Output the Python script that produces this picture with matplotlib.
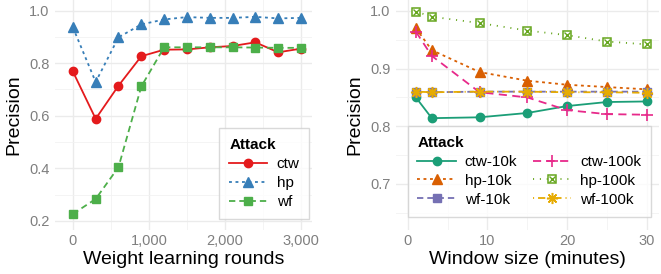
import matplotlib.pyplot as plt
from matplotlib.legend_handler import HandlerTuple
from matplotlib.ticker import FuncFormatter, MultipleLocator

plt.rcParams['font.family'] = ['Liberation Sans', 'DejaVu Sans']

# Left panel: precision vs. weight learning rounds
rounds = [0, 300, 600, 900, 1200, 1500, 1800, 2100, 2400, 2700, 3000]
ctw = [0.768, 0.588, 0.714, 0.826, 0.851, 0.852, 0.860, 0.865, 0.879, 0.841, 0.855]
hp = [0.936, 0.728, 0.898, 0.947, 0.966, 0.975, 0.972, 0.972, 0.976, 0.970, 0.972]
wf = [0.226, 0.283, 0.404, 0.711, 0.860, 0.860, 0.860, 0.860, 0.859, 0.858, 0.858]

# Right panel: precision vs. window size
window = [1, 3, 9, 15, 20, 25, 30]
ctw_10k = [0.850, 0.814, 0.8155, 0.823, 0.835, 0.842, 0.843]
hp_10k = [0.970, 0.932, 0.894, 0.879, 0.872, 0.868, 0.864]
wf_10k = [0.860, 0.859, 0.860, 0.860, 0.860, 0.860, 0.860]
ctw_100k = [0.964, 0.922, 0.859, 0.850, 0.828, 0.821, 0.820]
hp_100k = [0.999, 0.990, 0.979, 0.966, 0.958, 0.947, 0.942]
wf_100k = [0.860, 0.859, 0.860, 0.860, 0.859, 0.859, 0.858]

W, H = 661, 274
fig = plt.figure(figsize=(W / 100, H / 100), dpi=100)

def px_axes(x0, x1, y0, y1):
    return fig.add_axes([x0 / W, 1 - y1 / H, (x1 - x0) / W, (y1 - y0) / H])

def style(ax):
    for s in ax.spines.values():
        s.set_visible(False)
    ax.grid(which='major', color='#EBEBEB', lw=1.0)
    ax.grid(which='minor', color='#F2F2F2', lw=0.6)
    ax.set_axisbelow(True)
    ax.tick_params(which='both', length=0, labelsize=10.5, labelcolor='#7F7F7F')
    ax.tick_params(axis='x', pad=3)
    ax.tick_params(axis='y', pad=4)

def legend(ax, handles, labels, anchor, ncol=1, **kw):
    leg = ax.legend(handles, labels, loc='lower right', bbox_to_anchor=anchor,
                    borderaxespad=0, ncol=ncol, title='Attack', alignment='left',
                    fontsize=11, title_fontproperties={'weight': 'bold', 'size': 11},
                    frameon=True, fancybox=False, edgecolor='#D0D0D0',
                    handlelength=2.5, labelspacing=0.32, handletextpad=0.6,
                    borderpad=0.65, handler_map={tuple: HandlerTuple(ndivide=1)}, **kw)
    leg.get_frame().set_linewidth(1.0)
    return leg

lw = 1.3
short = (0, (1.6, 2.0))
dash = (0, (3.5, 2.2))

# ---- left panel
ax1 = px_axes(55, 312, 0, 230)
style(ax1)
l1, = ax1.plot(rounds, ctw, color='#E41A1C', lw=lw, marker='o', ms=6)
l2, = ax1.plot(rounds, hp, color='#377EB8', lw=lw, ls=short, marker='^', ms=6.5)
l3, = ax1.plot(rounds, wf, color='#4DAF4A', lw=lw, ls=dash, marker='s', ms=5.5)
ax1.set_xlim(-235, 3145)
ax1.set_ylim(0.165, 1.04)
ax1.xaxis.set_major_locator(MultipleLocator(1000))
ax1.xaxis.set_minor_locator(MultipleLocator(500))
ax1.yaxis.set_major_locator(MultipleLocator(0.2))
ax1.yaxis.set_minor_locator(MultipleLocator(0.1))
ax1.xaxis.set_major_formatter(FuncFormatter(lambda v, p: f"{int(v):,}"))
ax1.yaxis.set_major_formatter(FuncFormatter(lambda v, p: f"{v:.1f}"))
ax1.set_xlabel('Weight learning rounds', fontsize=14, labelpad=2)
ax1.set_ylabel('Precision', fontsize=14, labelpad=5)
legend(ax1, [l1, l2, l3], ['ctw', 'hp', 'wf'], (0.99, 0.048))

# ---- right panel
ax2 = px_axes(396, 658.5, 0, 230)
style(ax2)
r1, = ax2.plot(window, ctw_10k, color='#1B9E77', lw=lw, marker='o', ms=6)
r2, = ax2.plot(window, hp_10k, color='#D95F02', lw=lw, ls=short, marker='^', ms=6.5)
r3, = ax2.plot(window, wf_10k, color='#7570B3', lw=lw, ls=dash, marker='s', ms=5.5)
r4, = ax2.plot(window, ctw_100k, color='#E7298A', lw=lw, ls=(0, (4.5, 3.0)),
               marker='+', ms=8, mew=1.2)
r5, = ax2.plot(window, hp_100k, color='#66A61E', lw=lw, ls=(0, (0.6, 3.2)),
               marker='s', ms=6, mfc='white', mew=1.1)
r5x, = ax2.plot(window, hp_100k, color='#66A61E', ls='none', marker='x', ms=4.5, mew=1.0)
r6, = ax2.plot(window, wf_100k, color='#E6AB02', lw=lw, ls=(0, (0.6, 2.2, 4.0, 2.2)),
               marker=(8, 2, 0), ms=8, mew=1.1)
ax2.set_xlim(-1.5, 31.5)
ax2.set_ylim(0.62, 1.019)
ax2.xaxis.set_major_locator(MultipleLocator(10))
ax2.xaxis.set_minor_locator(MultipleLocator(5))
ax2.yaxis.set_major_locator(MultipleLocator(0.1))
ax2.yaxis.set_minor_locator(MultipleLocator(0.05))
ax2.yaxis.set_major_formatter(FuncFormatter(lambda v, p: f"{v:.1f}"))
ax2.set_xlabel('Window size (minutes)', fontsize=14, labelpad=2)
ax2.set_ylabel('Precision', fontsize=14, labelpad=5)
legend(ax2, [r1, r2, r3, r4, (r5, r5x), r6],
       ['ctw-10k', 'hp-10k', 'wf-10k', 'ctw-100k', 'hp-100k', 'wf-100k'],
       (0.971, 0.058), ncol=2, columnspacing=1.0)

fig.savefig('out.png', dpi=100)
